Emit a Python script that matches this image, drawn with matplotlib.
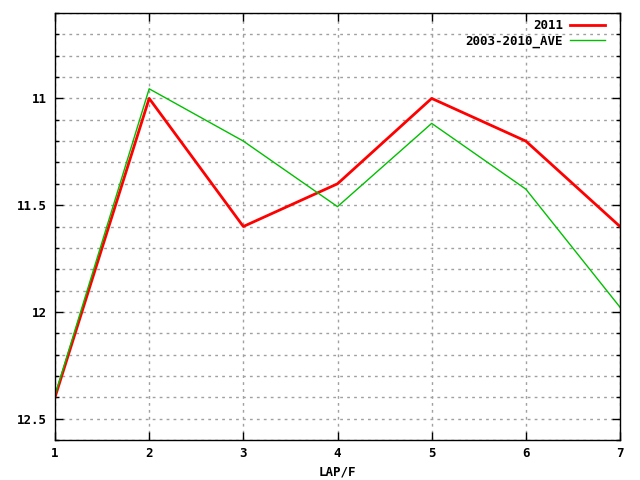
import matplotlib
matplotlib.use('Agg')
import matplotlib.pyplot as plt
from matplotlib.ticker import MultipleLocator

laps = [1, 2, 3, 4, 5, 6, 7]
y2011 = [12.4, 11.0, 11.6, 11.4, 11.0, 11.2, 11.6]
yave = [12.39, 10.955, 11.2, 11.507, 11.117, 11.425, 11.978]

font = {'family': 'DejaVu Sans Mono', 'weight': 'bold', 'size': 9}

fig = plt.figure(figsize=(6.4, 4.8), dpi=100)
ax = fig.add_axes([55 / 640, 40 / 480, 565 / 640, 427 / 480])

ax.plot(laps, y2011, color='#ff0000', lw=2, label='2011')
ax.plot(laps, yave, color='#00c000', lw=1, label='2003-2010_AVE')

ax.set_xlim(1, 7)
ax.set_ylim(12.6, 10.6)
ax.xaxis.set_major_locator(MultipleLocator(1))
ax.yaxis.set_major_locator(MultipleLocator(0.5))
ax.yaxis.set_minor_locator(MultipleLocator(0.1))
ax.yaxis.set_major_formatter(matplotlib.ticker.FuncFormatter(lambda v, p: '%g' % v))

ax.grid(which='both', color='#a0a0a0', ls=(0, (2, 3)), lw=1)
ax.tick_params(which='both', direction='in', top=True, right=True, width=1)
ax.tick_params(which='major', length=6)
ax.tick_params(which='minor', length=3)
for lbl in ax.get_xticklabels() + ax.get_yticklabels():
    lbl.set_fontproperties(matplotlib.font_manager.FontProperties(**font))
ax.tick_params(axis='x', pad=5)
ax.tick_params(axis='y', pad=6)
for s in ax.spines.values():
    s.set_linewidth(1)

ax.set_xlabel('LAP/F', fontdict=font, labelpad=4)

leg = ax.legend(loc='upper right', frameon=False, markerfirst=False,
                prop=matplotlib.font_manager.FontProperties(**font),
                handlelength=2.8, borderaxespad=0.1, labelspacing=0.2,
                handletextpad=0.6, bbox_to_anchor=(0.985, 1.0))

fig.savefig('out.png', dpi=100)
